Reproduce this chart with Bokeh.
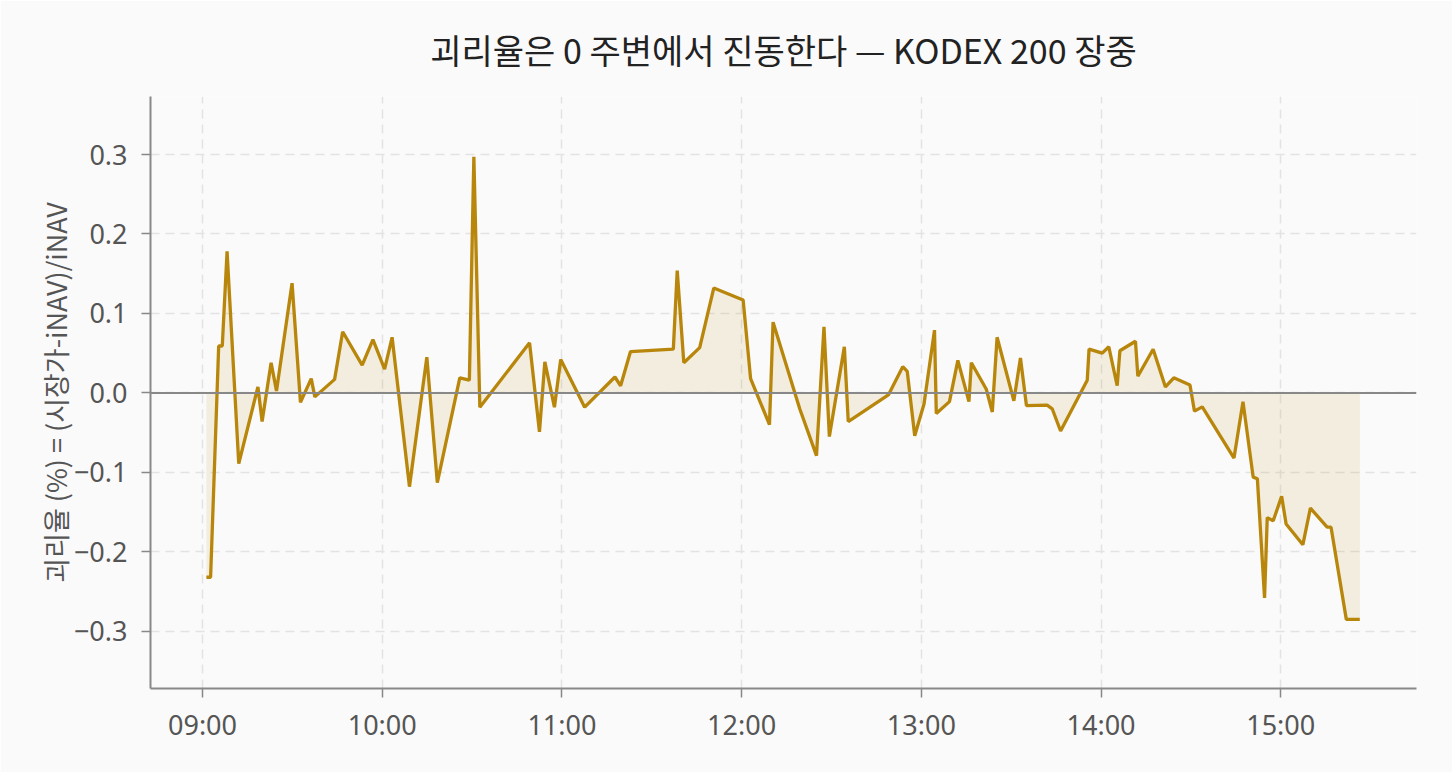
import pandas as pd
from bokeh.plotting import figure
from bokeh.models import FixedTicker, DatetimeTickFormatter, Range1d, Span, CustomJSTickFormatter
from bokeh.embed import file_html
from bokeh.resources import INLINE

DATE = "2024-01-02 "
times = ["09:01:18", "09:02:42", "09:05:24", "09:06:36", "09:08:12", "09:12:06", "09:18:30", "09:19:54",
         "09:22:54", "09:24:42", "09:29:54", "09:32:42", "09:36:18", "09:37:30", "09:44:06", "09:46:48",
         "09:53:18", "09:56:54", "10:00:48", "10:03:18", "10:09:06", "10:14:54", "10:18:24", "10:25:54",
         "10:29:06", "10:30:36", "10:32:36", "10:49:12", "10:52:30", "10:54:18", "10:57:30", "10:59:36",
         "11:07:36", "11:17:42", "11:19:36", "11:22:54", "11:37:12", "11:38:30", "11:40:42", "11:46:00",
         "11:50:42", "12:00:30", "12:03:00", "12:09:18", "12:10:30", "12:19:24", "12:25:00", "12:27:30",
         "12:29:18", "12:34:18", "12:35:36", "12:49:00", "12:53:48", "12:55:18", "12:57:48", "13:00:54",
         "13:04:24", "13:05:00", "13:09:24", "13:12:12", "13:15:54", "13:16:42", "13:21:42", "13:23:42",
         "13:25:18", "13:30:54", "13:33:06", "13:35:06", "13:42:00", "13:43:42", "13:46:30", "13:55:24",
         "13:56:00", "14:00:24", "14:02:36", "14:05:24", "14:06:18", "14:11:30", "14:12:18", "14:17:24",
         "14:21:30", "14:24:18", "14:29:42", "14:31:12", "14:33:48", "14:44:24", "14:47:24", "14:50:48",
         "14:52:12", "14:54:36", "14:55:30", "14:57:30", "15:00:18", "15:01:48", "15:07:24", "15:09:54",
         "15:15:30", "15:16:48", "15:21:54", "15:26:24"]
premium = [-0.232, -0.232, 0.059, 0.059, 0.178, -0.089, 0.0075, -0.036,
           0.038, 0.0025, 0.138, -0.012, 0.018, -0.005, 0.017, 0.077,
           0.035, 0.067, 0.030, 0.070, -0.118, 0.045, -0.113, 0.019,
           0.016, 0.297, -0.018, 0.063, -0.049, 0.039, -0.018, 0.042,
           -0.018, 0.020, 0.009, 0.052, 0.055, 0.154, 0.038, 0.057,
           0.132, 0.117, 0.018, -0.040, 0.089, -0.020, -0.079, 0.083,
           -0.055, 0.058, -0.036, -0.0025, 0.033, 0.027, -0.054, -0.014,
           0.079, -0.026, -0.011, 0.041, -0.011, 0.038, 0.0046, -0.024,
           0.070, -0.010, 0.044, -0.016, -0.0155, -0.020, -0.048, 0.016,
           0.055, 0.050, 0.058, 0.009, 0.053, 0.065, 0.021, 0.055,
           0.0075, 0.019, 0.010, -0.023, -0.0176, -0.082, -0.011, -0.106,
           -0.108, -0.258, -0.157, -0.161, -0.130, -0.165, -0.191, -0.145,
           -0.169, -0.169, -0.285, -0.285]
hour_ticks = ["09:00", "10:00", "11:00", "12:00", "13:00", "14:00", "15:00"]
y_ticks = [-0.3, -0.2, -0.1, 0.0, 0.1, 0.2, 0.3]

TITLE = "괴리율은 0 주변에서 진동한다 — KODEX 200 장중"
YLABEL = "괴리율 (%) = (시장가-iNAV)/iNAV"
FONT = "Noto Sans CJK KR"
TICK_FONT = "Noto Sans"

x = pd.to_datetime([DATE + t for t in times])
zero = [0.0] * len(premium)

def ms(s):
    return pd.Timestamp(DATE + s).value / 1e6

p = figure(width=1452, height=772, x_axis_type="datetime", output_backend="svg",
           toolbar_location=None, title=TITLE,
           x_range=Range1d(ms("08:42:38"), ms("15:45:20")), y_range=Range1d(-0.372, 0.373),
           min_border_left=150, min_border_right=36, min_border_top=95, min_border_bottom=84)

p.background_fill_color = "#fafafa"
p.border_fill_color = "#fafafa"
p.outline_line_color = None

p.title.text_font = FONT
p.title.text_font_size = "34px"
p.title.text_font_style = "normal"
p.title.text_color = "#222222"
p.title.align = "center"
p.title.offset = 0
p.title.standoff = 45

p.varea(x=x, y1=zero, y2=premium, fill_color="#b8860b", fill_alpha=0.11)
p.add_layout(Span(location=0, dimension="width", line_color="#888888", line_width=2))
p.line(x, premium, line_color="#b8860b", line_width=3.3)

p.xaxis.ticker = FixedTicker(ticks=[ms(h + ":00") for h in hour_ticks])
p.xaxis.formatter = DatetimeTickFormatter(hours="%H:%M", minutes="%H:%M", hourmin="%H:%M", days="%H:%M")
p.yaxis.ticker = FixedTicker(ticks=y_ticks)
p.yaxis.formatter = CustomJSTickFormatter(code="return tick.toFixed(1).replace('-', '\\u2212');")
p.yaxis.axis_label = YLABEL

for ax in (p.xaxis[0], p.yaxis[0]):
    ax.axis_line_color = "#888888"
    ax.axis_line_width = 2
    ax.major_tick_line_color = "#888888"
    ax.major_tick_line_width = 1.5
    ax.major_tick_out = 9
    ax.major_tick_in = 0
    ax.minor_tick_line_color = None
    ax.major_label_text_font = TICK_FONT
    ax.major_label_text_font_size = "27px"
    ax.major_label_text_color = "#555555"
    ax.axis_label_text_font = FONT
    ax.axis_label_text_font_size = "27px"
    ax.axis_label_text_font_style = "normal"
    ax.axis_label_text_color = "#555555"
p.yaxis.major_label_standoff = 14
p.xaxis.major_label_standoff = 8
p.yaxis.axis_label_standoff = -4

p.grid.grid_line_color = "#e3e3e3"
p.grid.grid_line_width = 1.5
p.grid.grid_line_dash = "9 6"

open("out.html", "w").write(file_html(p, INLINE))
